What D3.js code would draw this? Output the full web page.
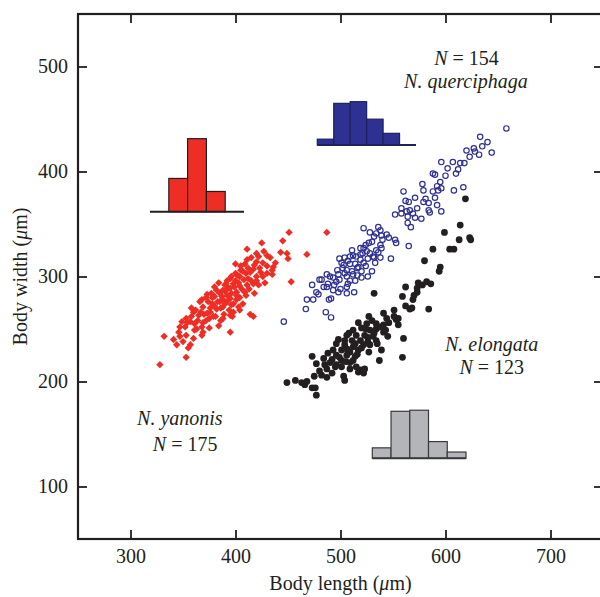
<!DOCTYPE html>
<html>
<head>
<meta charset="utf-8">
<script src="https://cdn.jsdelivr.net/npm/d3@7"></script>
<style>
    body { margin: 0; background: #ffffff; }
    svg text { font-family: "Liberation Serif", "Times New Roman", serif; fill: #231f20; }
</style>
</head>
<body>
<div id="chart"></div>
<script>

// =================================================================================================================
// DATA  (body length, body width) in micrometres
// =================================================================================================================

var yanonisPoints = [
    [451,342],[487,342],[425,332],[445,334],[411,326],[443,323],[449,322],[450,317],[468,321],[430,320],
    [422,319],[420,314],[426,313],[438,313],[436,309],[400,312],[409,312],[417,307],[423,308],[430,303],
    [435,302],[407,305],[400,303],[395,298],[404,300],[412,298],[420,300],[453,295],[391,293],[398,293],
    [404,291],[411,292],[417,293],[382,287],[388,287],[393,289],[401,285],[409,285],[373,283],[380,281],
    [387,281],[395,279],[401,278],[385,276],[392,276],[378,274],[396,273],[403,271],[369,271],[376,270],
    [368,278],[382,269],[388,271],[395,263],[414,264],[417,262],[360,266],[365,263],[373,265],[379,262],
    [388,260],[353,260],[349,257],[357,257],[361,255],[368,252],[384,253],[375,251],[395,247],[347,252],
    [361,249],[369,247],[353,244],[360,241],[368,244],[332,243],[347,243],[344,235],[350,238],[357,235],
    [355,232],[353,223],[328,216],
    [380,290],[385,284],[390,286],[396,284],[399,290],[403,294],[406,288],[392,296],[388,278],[383,276],
    [378,280],[374,276],[386,270],[398,274],[404,280],[410,282],[413,288],[415,296],[408,297],[420,296],
    [424,304],[410,303],[402,301],[396,300],[390,292],[395,289],[400,296],[405,306],[412,308],[418,311],
    [414,304],[426,300],[392,282],[380,272],[376,266],[370,264],[364,258],[358,262],[352,252],[346,247],
    [363,250],[372,258],[381,262],[386,258],[394,268],[398,266],[377,284],[372,280],[366,276],[362,268],
    [354,256],[384,294],[401,282],[407,274],[418,284],[430,310],[433,318],[415,318],[427,324],[341,240],
    [358,270],[367,266],[389,264],[397,262],[404,268],[422,292],[428,294],[435,306],[420,322],[411,316],
    [405,310],[390,274],[375,260],[369,256]
];

var querciphagaPoints = [
    [658,441],[633,433],[635,424],[627,422],[628,419],[632,416],[644,418],[623,414],[596,409],[607,409],
    [614,408],[618,408],[602,403],[610,398],[588,398],[590,397],[595,390],[592,386],[596,384],[593,382],
    [588,381],[608,382],[617,385],[579,382],[560,381],[571,375],[581,374],[590,375],[562,372],[565,371],
    [579,371],[592,368],[558,365],[584,370],[584,363],[585,361],[596,362],[552,359],[563,362],[569,360],
    [564,357],[571,356],[577,355],[564,351],[567,347],[565,329],[522,346],[528,342],[536,347],[534,341],
    [539,339],[544,340],[552,335],[553,332],[530,333],[527,332],[524,330],[538,330],[534,325],[539,327],
    [519,327],[521,322],[525,324],[511,325],[515,319],[519,316],[526,317],[531,319],[538,318],[548,317],
    [509,319],[509,312],[503,311],[514,312],[522,313],[533,313],[499,317],[502,308],[506,306],[498,302],
    [493,299],[506,300],[512,302],[516,301],[507,293],[504,303],[499,297],[487,302],[482,297],[490,300],
    [496,295],[526,300],[530,305],[488,293],[487,290],[493,287],[498,285],[506,284],[513,285],[491,279],
    [489,278],[473,292],[477,285],[479,283],[474,278],[468,278],[467,269],[486,266],[491,261],[446,257],
    [480,297],
    [501,313],[507,315],[516,308],[520,305],[524,310],[511,305],[497,306],[509,296],[519,321],[528,322],
    [540,335],[546,337],[512,320],[504,318],[494,292],[484,290],[500,288],[538,344],[532,338],[558,360],
    [566,363],[573,365],[578,388],[600,396],[612,402],[620,420],[640,428],[506,290],[514,296],[520,299],
    [532,318],[536,323],[522,327],[517,309]
];

var elongataPoints = [
    [619,374],[614,349],[599,342],[613,335],[623,337],[624,335],[588,326],[604,326],[608,326],[580,315],
    [595,309],[594,305],[582,295],[586,293],[574,294],[573,289],[573,285],[562,290],[559,281],[569,278],
    [568,270],[566,269],[584,269],[532,284],[551,268],[541,265],[527,262],[555,260],[544,260],[553,259],
    [517,256],[525,255],[534,255],[541,254],[555,254],[512,249],[520,251],[528,249],[534,250],[541,247],
    [506,244],[515,244],[523,244],[531,243],[545,243],[560,241],[504,239],[511,239],[519,239],[526,238],
    [534,239],[496,236],[504,235],[512,233],[522,235],[528,235],[539,230],[493,230],[501,230],[509,228],
    [517,230],[488,227],[496,225],[506,225],[514,224],[473,224],[484,222],[492,221],[501,220],[512,220],
    [537,220],[559,223],[477,217],[485,216],[495,214],[501,214],[509,212],[519,211],[523,212],[482,206],
    [492,208],[503,205],[504,201],[517,209],[522,208],[449,199],[463,199],[466,197],[473,194],[476,194],
    [477,187],
    [498,240],[508,246],[514,236],[526,242],[520,232],[506,231],[499,223],[490,218],[480,210],[487,212],
    [527,228],[532,246],[538,252],[546,256],[530,258],[524,250],[516,226],[509,218],[535,236],[543,249],
    [551,262],[562,272],[570,282],[578,292],[496,216],[505,219],[515,214],[475,205],[468,200],[457,201],
    [487,204]
];

// inset histograms: counts per bin
var yanonisCounts = [0, 46, 101, 28, 0];
var querciphagaCounts = [7, 50, 52, 31, 14, 0];
var elongataCounts = [10, 45, 46, 16, 6];

var xTicks = [300, 400, 500, 600, 700];
var yTicks = [100, 200, 300, 400, 500];

// species labels, placed in data units (length, width) of the text baselines
var labels = [
    {name: "N. yanonis", n: 175, nameAt: [347, 158.6], nAt: [352, 134.1]},
    {name: "N. elongata", n: 123, nameAt: [644, 229.3], nAt: [644, 206.9]},
    {name: "N. querciphaga", n: 154, nameAt: [619.5, 479.2], nAt: [620, 501.4]}
];

// =================================================================================================================
// SETUP
// =================================================================================================================

var W = 600, H = 597;
var margin = {top: 14, left: 78},
    width = 525,
    height = 525;

var ink = "#231f20";
var fontSize = "20px";

var svg = d3.select("#chart").append("svg")
    .attr("width", W)
    .attr("height", H);

var g = svg.append("g")
    .attr("transform", "translate(" + margin.left + "," + margin.top + ")");

var x = d3.scaleLinear().domain([250, 750]).range([0, width]);
var y = d3.scaleLinear().domain([50, 550]).range([height, 0]);

// =================================================================================================================
// AXES  (ticks point inward on all four sides)
// =================================================================================================================

function styleAxis(sel) {
    sel.select(".domain").remove();
    sel.selectAll(".tick line").attr("stroke", ink).attr("stroke-width", 1.8);
    sel.selectAll(".tick text")
        .attr("fill", ink)
        .style("font-size", fontSize)
        .style("font-family", "'Liberation Serif', serif");
}

g.append("g")
    .attr("transform", "translate(0," + height + ")")
    .call(d3.axisBottom(x).tickValues(xTicks).tickSize(-9).tickPadding(10))
    .call(styleAxis);

g.append("g")
    .call(d3.axisTop(x).tickValues(xTicks).tickSize(-9).tickFormat(""))
    .call(styleAxis);

g.append("g")
    .call(d3.axisLeft(y).tickValues(yTicks).tickSize(-9).tickPadding(10))
    .call(styleAxis);

g.append("g")
    .attr("transform", "translate(" + width + ",0)")
    .call(d3.axisRight(y).tickValues(yTicks).tickSize(-9).tickFormat(""))
    .call(styleAxis);

// frame
g.append("rect")
    .attr("width", width)
    .attr("height", height)
    .attr("fill", "none")
    .attr("stroke", ink)
    .attr("stroke-width", 2.2);

// axis titles
var xTitle = svg.append("text")
    .attr("x", margin.left + width / 2)
    .attr("y", 590)
    .attr("text-anchor", "middle")
    .style("font-size", fontSize);
xTitle.append("tspan").text("Body length (");
xTitle.append("tspan").style("font-style", "italic").text("\u03bc");
xTitle.append("tspan").text("m)");

var yTitle = svg.append("text")
    .attr("transform", "translate(27," + (margin.top + height / 2) + ") rotate(-90)")
    .attr("text-anchor", "middle")
    .style("font-size", fontSize);
yTitle.append("tspan").text("Body width (");
yTitle.append("tspan").style("font-style", "italic").text("\u03bc");
yTitle.append("tspan").text("m)");

// =================================================================================================================
// SCATTER
// =================================================================================================================

g.selectAll(".yanonis")
    .data(yanonisPoints)
    .enter().append("path")
    .attr("class", "yanonis")
    .attr("d", d3.symbol().type(d3.symbolSquare).size(27))
    .attr("transform", function(d) { return "translate(" + x(d[0]) + "," + y(d[1]) + ") rotate(45)"; })
    .attr("fill", "#ee2d24");

g.selectAll(".elongata")
    .data(elongataPoints)
    .enter().append("circle")
    .attr("class", "elongata")
    .attr("cx", function(d) { return x(d[0]); })
    .attr("cy", function(d) { return y(d[1]); })
    .attr("r", 3.4)
    .attr("fill", ink);

g.selectAll(".querciphaga")
    .data(querciphagaPoints)
    .enter().append("circle")
    .attr("class", "querciphaga")
    .attr("cx", function(d) { return x(d[0]); })
    .attr("cy", function(d) { return y(d[1]); })
    .attr("r", 2.7)
    .attr("fill", "none")
    .attr("stroke", "#2e3192")
    .attr("stroke-width", 1.2);

// =================================================================================================================
// INSET HISTOGRAMS
// =================================================================================================================

function histogram(counts, left, right, base, pxPerCount, fill, edge) {
    var bx = d3.scaleBand().domain(d3.range(counts.length)).range([left, right]);
    var hy = d3.scaleLinear().domain([0, 1]).range([0, pxPerCount]);
    var hg = svg.append("g");

    hg.selectAll("rect")
        .data(counts.map(function(c, i) { return {i: i, c: c}; }).filter(function(d) { return d.c > 0; }))
        .enter().append("rect")
        .attr("x", function(d) { return bx(d.i); })
        .attr("y", function(d) { return base - hy(d.c); })
        .attr("width", bx.bandwidth())
        .attr("height", function(d) { return hy(d.c); })
        .attr("fill", fill)
        .attr("stroke", edge)
        .attr("stroke-width", 1.2);

    hg.append("line")
        .attr("x1", left).attr("x2", right)
        .attr("y1", base).attr("y2", base)
        .attr("stroke", edge)
        .attr("stroke-width", 2);
}

histogram(yanonisCounts, 150, 244, 211.7, 0.723, "#ee2d24", ink);
histogram(querciphagaCounts, 317.3, 416, 145, 0.833, "#2e3192", "#1f2060");
histogram(elongataCounts, 372.3, 466, 458.3, 1.045, "#b3b5b8", "#3a3a3c");

// =================================================================================================================
// LABELS
// =================================================================================================================

labels.forEach(function(l) {
    svg.append("text")
        .attr("x", x(l.nameAt[0]) + margin.left)
        .attr("y", y(l.nameAt[1]) + margin.top)
        .attr("text-anchor", "middle")
        .style("font-size", fontSize)
        .style("font-style", "italic")
        .text(l.name);

    var t = svg.append("text")
        .attr("x", x(l.nAt[0]) + margin.left)
        .attr("y", y(l.nAt[1]) + margin.top)
        .attr("text-anchor", "middle")
        .style("font-size", fontSize);
    t.append("tspan").style("font-style", "italic").text("N");
    t.append("tspan").text(" = " + l.n);
});

</script>
</body>
</html>
